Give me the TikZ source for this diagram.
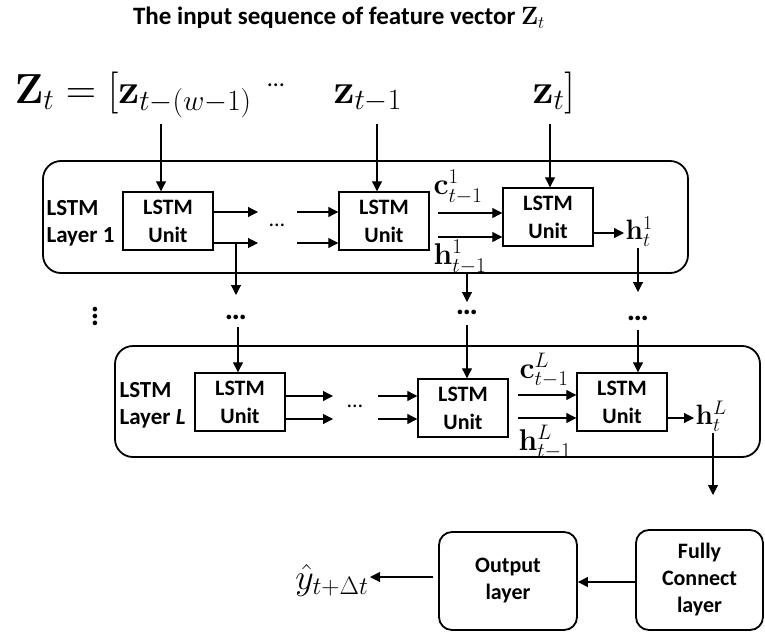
\RequirePackage{fix-cm}
\documentclass[tikz,border=0pt]{standalone}
\usepackage[no-math]{fontspec}
\setmainfont{Carlito}
\usetikzlibrary{arrows.meta}

\begin{document}
\begin{tikzpicture}[x=1pt,y=-1pt,line width=1.1pt,
  arr/.style={-{Triangle[length=10pt,width=10pt]}},
  layerbox/.style={draw,line width=1.8pt,rounded corners=18pt,inner sep=0pt},
  unitbox/.style={draw,line width=1.4pt,minimum width=90pt,minimum height=58pt,
    inner sep=0pt,align=center,font=\fontsize{22}{28}\selectfont\bfseries},
  roundbox/.style={draw,line width=1.8pt,rounded corners=13pt,inner sep=0pt,
    align=center,font=\fontsize{22}{27}\selectfont\bfseries},
  layerlab/.style={anchor=west,align=left,inner sep=0pt,
    font=\fontsize{23}{27}\selectfont\bfseries},
  biglab/.style={anchor=base west,inner sep=0pt,font=\fontsize{42}{48}\selectfont},
  veclab/.style={inner sep=1pt,font=\fontsize{30}{34}\selectfont},
  outlab/.style={inner sep=1pt,anchor=west,font=\fontsize{28}{32}\selectfont},
  smalldots/.style={inner sep=0pt,font=\fontsize{22}{24}\selectfont},
  coldots/.style={inner sep=0pt,font=\fontsize{31}{32}\selectfont\bfseries}]
\useasboundingbox (0,0) rectangle (765,634);

% heading
\node[font=\fontsize{25}{28}\selectfont\bfseries] (title) at (339,18)
  {The input sequence of feature vector $\mathbf{Z}_t$};

% input sequence
\node[biglab] (zw) at (14,103) {$\mathbf{Z}_t = [\mathbf{z}_{t-(w-1)}$};
\node[inner sep=0pt,font=\fontsize{24}{26}\selectfont] (zdots) at (276,85) {…};
\node[biglab] (zt1) at (333,103) {$\mathbf{z}_{t-1}$};
\node[biglab] (zt) at (532,103) {$\mathbf{z}_t]$};

% layer containers
\node[layerbox,minimum width=645pt,minimum height=112pt] (lay1) at (365.5,217) {};
\node[layerbox,minimum width=645pt,minimum height=111pt] (layL) at (437.5,401.5) {};

% ---- first layer ----
\node[layerlab] (lab1) at (46,223) {LSTM\\Layer 1};
\node[unitbox] (u1) at (168,221) {LSTM\\Unit};
\node[unitbox] (u2) at (384,221) {LSTM\\Unit};
\node[unitbox] (u3) at (548,217) {LSTM\\Unit};

\draw[arr] (161,124) -- (u1.north -| 161,0);
\draw[arr] (377,124) -- (u2.north -| 377,0);
\draw[arr] (550,124) -- (u3.north -| 550,0);

\coordinate (a1) at (258,212); \coordinate (a2) at (258,243);
\coordinate (b1) at (297,212); \coordinate (b2) at (297,243);
\draw[arr] (u1.east |- a1) -- (a1);
\draw[arr] (u1.east |- a2) -- (a2);
\node[smalldots] (sd1) at (277,225) {…};
\draw[arr] (b1) -- (u2.west |- b1);
\draw[arr] (b2) -- (u2.west |- b2);

\coordinate (c1) at (438,213); \coordinate (c2) at (438,237);
\draw[arr] (c1) -- (u3.west |- c1);
\draw[arr] (c2) -- (u3.west |- c2);
\node[veclab] (cl1) at (458,187) {$\mathbf{c}^1_{t-1}$};
\node[veclab] (hl1) at (460,257) {$\mathbf{h}^1_{t-1}$};
\node[outlab] (ht1) at (624,232) {$\mathbf{h}^1_t$};
\draw[arr] (u3.east |- 0,233) -- (ht1.west |- 0,233);

% ---- between the layers ----
\coordinate (k1) at (236,243); \coordinate (k1e) at (236,295);
\coordinate (k2) at (467,274); \coordinate (k2e) at (467,302);
\coordinate (k3) at (638,248); \coordinate (k3e) at (638,292);
\draw[arr] (k1) -- (k1e);
\draw[arr] (k2) -- (k2e);
\draw[arr] (k3) -- (k3e);
\node[coldots] (d1) at (236,317) {…};
\node[coldots] (d2) at (467,312) {…};
\node[coldots] (d3) at (638,318) {…};
\node[coldots,rotate=90] (dv) at (95,316) {…};

% ---- last layer ----
\node[layerlab] (labL) at (119,405) {LSTM\\Layer \textit{L}};
\node[unitbox] (v1) at (240,402) {LSTM\\Unit};
\node[unitbox] (v2) at (463,408) {LSTM\\Unit};
\node[unitbox] (v3) at (622,402) {LSTM\\Unit};

\draw[arr] (238,327) -- (v1.north -| 238,0);
\draw[arr] (467,325) -- (v2.north -| 467,0);
\draw[arr] (638,330) -- (v3.north -| 638,0);

\coordinate (e1) at (333,396); \coordinate (e2) at (333,419);
\coordinate (f1) at (378,396); \coordinate (f2) at (378,419);
\draw[arr] (v1.east |- e1) -- (e1);
\draw[arr] (v1.east |- e2) -- (e2);
\node[smalldots] (sd2) at (355,406) {…};
\draw[arr] (f1) -- (v2.west |- f1);
\draw[arr] (f2) -- (v2.west |- f2);

\coordinate (g1) at (518,395); \coordinate (g2) at (518,418);
\draw[arr] (g1) -- (v3.west |- g1);
\draw[arr] (g2) -- (v3.west |- g2);
\node[veclab] (clL) at (544,370) {$\mathbf{c}^L_{t-1}$};
\node[veclab] (hlL) at (545,442) {$\mathbf{h}^L_{t-1}$};
\node[outlab] (htL) at (694,416) {$\mathbf{h}^L_t$};
\draw[arr] (v3.east |- 0,418) -- (htL.west |- 0,418);

% ---- output stage ----
\coordinate (q) at (713,495);
\draw[arr] (713,433) -- (q);
\node[roundbox,minimum width=127pt,minimum height=100pt] (fc) at (699.5,580)
  {Fully\\Connect\\layer};
\node[roundbox,minimum width=138pt,minimum height=98pt] (out) at (508,581)
  {Output\\layer};
\draw[arr] (fc.west |- 0,582) -- (out.east |- 0,582);
\node[inner sep=1pt,anchor=east,font=\fontsize{36}{40}\selectfont] (yh) at (370,580)
  {$\hat{y}_{t+\Delta t}$};
\coordinate (o1) at (433,577);
\draw[arr] (o1) -- (o1 -| yh.east);
\end{tikzpicture}
\end{document}
